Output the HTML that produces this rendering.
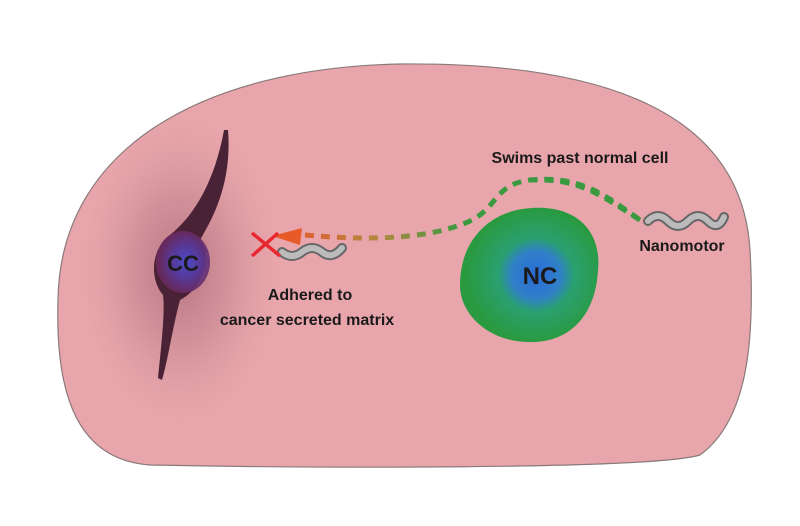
<!DOCTYPE html>
<html><head><style>
body{margin:0;background:#fff;width:800px;height:521px;overflow:hidden}
svg text{font-family:"Liberation Sans",sans-serif;font-weight:bold;fill:#1a1a1a}
</style></head><body>
<svg width="800" height="521" viewBox="0 0 800 521">
<defs>
<radialGradient id="haze" cx="0.5" cy="0.5" r="0.5">
<stop offset="0" stop-color="#7a3a50" stop-opacity="0.45"/>
<stop offset="0.5" stop-color="#8a4a5e" stop-opacity="0.22"/>
<stop offset="1" stop-color="#c07a88" stop-opacity="0"/>
</radialGradient>
<radialGradient id="nuc" cx="0.55" cy="0.5" r="0.5">
<stop offset="0" stop-color="#4a50d8"/><stop offset="0.55" stop-color="#5a3aa0"/><stop offset="1" stop-color="#6a2a60"/>
</radialGradient>
<radialGradient id="nc" cx="0.55" cy="0.5" r="0.5">
<stop offset="0" stop-color="#2a6ad8"/><stop offset="0.35" stop-color="#3080c8"/><stop offset="0.55" stop-color="#2aa070"/><stop offset="1" stop-color="#2a9a40"/>
</radialGradient>
<linearGradient id="dash" x1="300" y1="0" x2="460" y2="0" gradientUnits="userSpaceOnUse">
<stop offset="0" stop-color="#e06030"/><stop offset="0.5" stop-color="#b08a40"/><stop offset="1" stop-color="#3a9a40"/>
</linearGradient>
</defs>
<path d="M150,465 C80,460 55,400 58,300 C60,150 200,68 400,64 C620,62 742,120 750,250 C755,340 748,420 700,455 C650,470 300,468 150,465 Z" fill="#e8a6ac" stroke="#8a7a7a" stroke-width="1.2"/>
<ellipse cx="180" cy="270" rx="100" ry="155" fill="url(#haze)"/>
<path d="M228,130 C232,180 215,215 200,240 C215,260 200,290 180,300 C172,330 168,360 162,380 L158,378 C162,340 165,310 163,295 C150,280 150,250 170,235 C195,215 215,180 224,130 Z" fill="#4a2235"/>
<ellipse cx="183" cy="262" rx="27" ry="31" fill="url(#nuc)" opacity="0.9"/>
<text x="183" y="271" font-size="22" text-anchor="middle">CC</text>
<path d="M532,208 C575,205 602,230 598,270 C596,310 575,340 535,342 C490,344 460,315 460,285 C460,240 490,210 532,208 Z" fill="url(#nc)"/>
<text x="540" y="284" font-size="24" text-anchor="middle">NC</text>
<path d="M305,235 C360,240 420,240 460,225 C500,212 490,185 530,180 C580,175 605,195 640,220" fill="none" stroke="url(#dash)" stroke-width="5" stroke-dasharray="9,7"/>
<path d="M640,220 C600,195 580,178 530,180" fill="none" stroke="#3a9a40" stroke-width="5" stroke-dasharray="9,7"/>
<polygon points="272,236 302,228 300,245" fill="#e85a28"/>
<path d="M648,221 q10,-10 20,0 t20,0 t20,0 t16,-4" fill="none" stroke="#666" stroke-width="10" stroke-linecap="round"/>
<path d="M648,221 q10,-10 20,0 t20,0 t20,0 t16,-4" fill="none" stroke="#bbb" stroke-width="6" stroke-linecap="round"/>
<path d="M282,252 q10,8 20,0 t20,0 t20,-4" fill="none" stroke="#666" stroke-width="10" stroke-linecap="round"/>
<path d="M282,252 q10,8 20,0 t20,0 t20,-4" fill="none" stroke="#bbb" stroke-width="6" stroke-linecap="round"/>
<path d="M252,233 L280,256 M252,256 L278,233" stroke="#e82830" stroke-width="3.5"/>
<text x="580" y="163" font-size="16" text-anchor="middle">Swims past normal cell</text>
<text x="682" y="251" font-size="16" text-anchor="middle">Nanomotor</text>
<text x="310" y="300" font-size="16" text-anchor="middle">Adhered to</text>
<text x="307" y="325" font-size="16" text-anchor="middle">cancer secreted matrix</text>
</svg>
</body></html>
